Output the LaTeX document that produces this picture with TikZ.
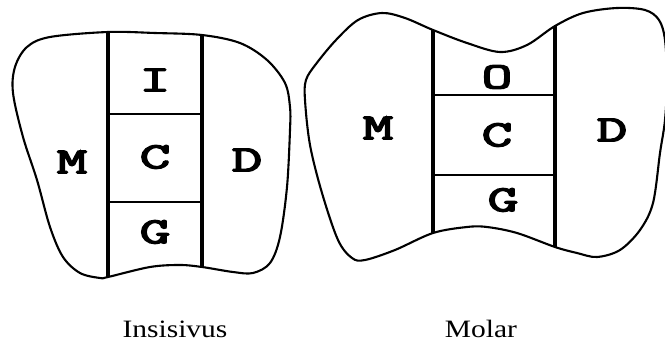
\documentclass[tikz,border=0pt]{standalone}
\usepackage{fontspec}
\setmainfont{Liberation Serif}
\newfontfamily\surffont{Latin Modern Mono}[FakeBold=3.5]
\begin{document}
\begin{tikzpicture}[x=1pt,y=-1pt,
  outline/.style={line width=2.1pt,line join=round},
  divider/.style={line width=3.2pt},
  band/.style={line width=2.8pt},
  surf/.style={font=\fontsize{37}{37}\selectfont\surffont,xscale=1.6,inner sep=0pt},
  caption/.style={font=\fontsize{25}{25}\selectfont,xscale=1.18,inner sep=0pt,anchor=base}]
\useasboundingbox (0,0) rectangle (665,345);
\begin{scope}
\clip (0,0) rectangle (665,345);
% incisor outline
\draw[outline] plot[smooth cycle,tension=0.55] coordinates {
  (108,32) (50,37) (27,47) (15,67) (13,93) (23,137) (37,180) (50,227)
  (63,257) (80,273) (100,278) (108,277) (150,267) (180,265) (202,267)
  (233,272) (253,273) (270,263) (280,237) (287,187) (290,130) (290,107)
  (285,83) (267,60) (240,43) (202,35) (155,33)};
% molar outline
\draw[outline] plot[smooth cycle,tension=0.55] coordinates {
  (433,30) (405,18) (382,13) (358,20) (336,40) (316,64) (306,80) (305,100)
  (310,145) (322,193) (338,240) (352,258) (365,260) (395,250) (433,233)
  (467,227) (487,227) (517,233) (555,247) (577,253) (597,257) (620,250)
  (640,230) (653,203) (660,153) (665,120) (667,80) (665,40) (659,20)
  (645,10) (617,8) (583,13) (555,26) (527,45) (500,52) (467,43)};
\end{scope}
% incisor dividers
\draw[divider] (108,32) -- (108,277);
\draw[divider] (202,35) -- (202,267);
\draw[band] (108,114) -- (202,114);
\draw[band] (108,202) -- (202,202);
% molar dividers
\draw[divider] (433,30) -- (433,233);
\draw[divider] (555,26) -- (555,247);
\draw[band] (433,95) -- (555,95);
\draw[band] (433,175) -- (555,175);
% surface labels
\node[surf] (iI) at (155,80) {I};
\node[surf] (iC) at (155,157) {C};
\node[surf] (iG) at (155,232) {G};
\node[surf] (iM) at (72,162) {M};
\node[surf] (iD) at (247,160) {D};
\node[surf] (mO) at (497,77) {O};
\node[surf] (mC) at (497,135) {C};
\node[surf] (mG) at (503,200) {G};
\node[surf] (mM) at (378,128) {M};
\node[surf] (mD) at (612,130) {D};
% captions
\node[caption] (capI) at (175,337) {Insisivus};
\node[caption] (capM) at (481,337) {Molar};
\end{tikzpicture}
\end{document}
